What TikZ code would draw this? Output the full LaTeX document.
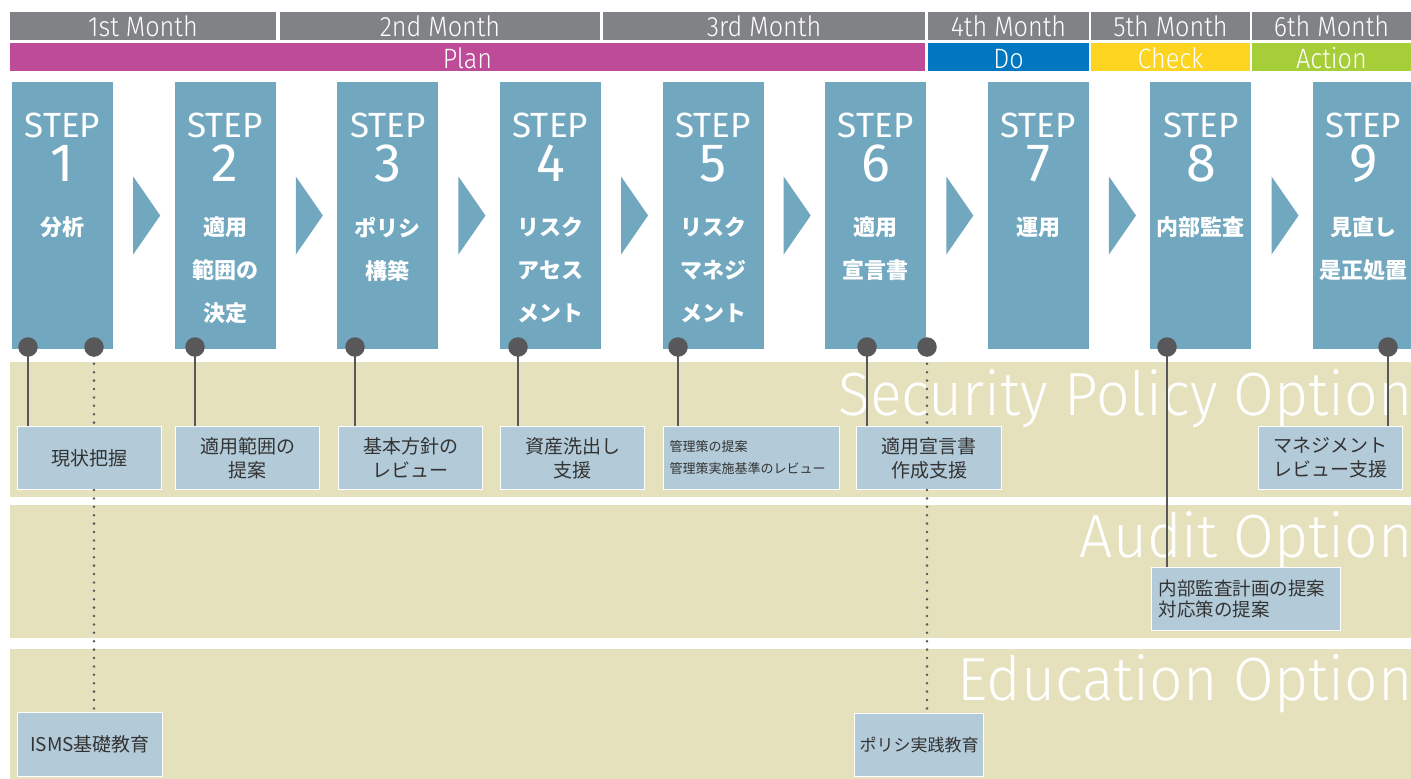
\documentclass[tikz,border=0pt]{standalone}
\usepackage{fontspec}
\setmainfont{Noto Sans CJK JP}
\newfontfamily\dinfont{Fira Sans}
\newfontfamily\dincond[FakeStretch=0.9]{Fira Sans Light}
\newfontfamily\dinlight[FakeStretch=0.965]{Fira Sans Light}
\usetikzlibrary{positioning}

\definecolor{monthgray}{HTML}{818286}
\definecolor{plancol}{HTML}{BD4B97}
\definecolor{docol}{HTML}{0077C0}
\definecolor{checkcol}{HTML}{FDD420}
\definecolor{actcol}{HTML}{A6CE39}
\definecolor{stepcol}{HTML}{72A8BF}
\definecolor{bandcol}{HTML}{E6E1BD}
\definecolor{notecol}{HTML}{B3CBD9}
\definecolor{pincol}{HTML}{58585A}
\definecolor{inkcol}{HTML}{333333}

\tikzset{
  barlabel/.style={text=white, font=\dincond\fontsize{28}{28}\selectfont, inner sep=0pt, anchor=base},
  stepbox/.style={fill=stepcol, minimum width=101pt, minimum height=267pt, inner sep=0pt},
  steptitle/.style={text=white, font=\dinfont\fontsize{35}{35}\selectfont, inner sep=0pt, anchor=base},
  stepnum/.style={text=white, font=\dinfont\fontsize{54}{54}\selectfont, inner sep=0pt, anchor=base},
  steptext/.style={text=white, font=\bfseries\fontsize{22}{43}\selectfont, align=center, inner sep=0pt, anchor=north},
  chevron/.style={fill=stepcol},
  pin/.style={circle, fill=pincol, minimum size=19.5pt, inner sep=0pt},
  stem/.style={pincol, line width=2.6pt},
  dotstem/.style={pincol, line width=2.8pt, dash pattern=on 0pt off 8.4pt, line cap=round},
  note/.style={fill=notecol, draw=white, line width=1pt, text=inkcol, inner sep=0pt,
    font=\fontsize{19}{24}\selectfont, align=center, anchor=north west,
    minimum width=144pt, minimum height=63pt},
  bandtitle/.style={text=white, font=\dinlight\fontsize{61}{61}\selectfont, anchor=base east, inner sep=0pt},
}

\begin{document}
\begin{tikzpicture}[x=1pt, y=-1pt]
  \useasboundingbox (0,0) rectangle (1411,779);

  % months and PDCA phases
  \foreach \xa/\xb/\txt [count=\k] in {10/276/1st Month, 280/600/2nd Month, 603/925/3rd Month,
      928/1089/4th Month, 1091/1250/5th Month, 1252/1411/6th Month}{
    \fill[monthgray] (\xa,12) rectangle (\xb,40);
    \node[barlabel] (m\k) at ({(\xa+\xb)/2},36) {\txt};
  }
  \foreach \xa/\xb/\col/\txt in {10/925/plancol/Plan, 928/1089/docol/Do,
      1091/1250/checkcol/Check, 1252/1411/actcol/Action}{
    \fill[\col] (\xa,43) rectangle (\xb,71);
    \node[barlabel] (ph-\txt) at ({(\xa+\xb)/2},68) {\txt};
  }

  % option bands
  \fill[bandcol] (10,362) rectangle (1411,497);
  \fill[bandcol] (10,505) rectangle (1411,638);
  \fill[bandcol] (10,649) rectangle (1411,779);
  \node[bandtitle] (secopt) at (1413,415) {Security Policy Option};
  \node[bandtitle] (audopt) at (1413,557) {Audit Option};
  \node[bandtitle] (eduopt) at (1413,700) {Education Option};

  % the nine steps
  \foreach \i/\lbl in {1/分析, 2/{適用\\範囲の\\決定}, 3/{ポリシ\\構築}, 4/{リスク\\アセス\\メント},
      5/{リスク\\マネジ\\メント}, 6/{適用\\宣言書}, 7/運用, 8/内部監査, 9/{見直し\\是正処置}}{
    \node[stepbox] (s\i) at ({62.5+162.625*(\i-1)},215.5) {};
    \node[steptitle] (t\i) at ([yshift=-56pt]s\i.north) {STEP};
    \node[stepnum] (k\i) at ([yshift=-100pt]s\i.north) {\i};
    \node[steptext] (l\i) at ([yshift=-135pt]s\i.north) {\lbl};
  }
  \foreach \i in {1,...,8}
    \fill[chevron] (s\i.east) ++(20,-39) -- ++(27,39) -- ++(-27,39) -- cycle;

  % option boxes
  \node[note] (n1) at (17,426) {現状把握};
  \node[note] (n2) at (175,426) {適用範囲の\\提案};
  \node[note] (n3) at (338,426) {基本方針の\\レビュー};
  \node[note] (n4) at (500,426) {資産洗出し\\支援};
  \node[note, minimum width=176pt, align=left, text width=164pt,
    font=\fontsize{13}{22}\selectfont] (n5) at (663,426) {管理策の提案\\管理策実施基準のレビュー};
  \node[note, minimum width=145pt] (n6) at (856,426) {適用宣言書\\作成支援};
  \node[note] (n9) at (1258,426) {マネジメント\\レビュー支援};
  \node[note, minimum width=189pt, align=left, text width=175pt,
    font=\fontsize{18.5}{20.5}\selectfont] (a8) at (1151,567) {内部監査計画の提案\\対応策の提案};
  \node[note, minimum width=145pt, minimum height=64pt] (e1) at (17,712) {ISMS基礎教育};
  \node[note, minimum width=129pt, font=\fontsize{17}{17}\selectfont] (e6) at (854,713) {ポリシ実践教育};

  % pins on the steps
  \coordinate (p1a) at (28,347);
  \coordinate (p1b) at (94,347);
  \coordinate (p2) at (195,347);
  \coordinate (p3) at (355,347);
  \coordinate (p4) at (518,347);
  \coordinate (p5) at (678,347);
  \coordinate (p6a) at (867,347);
  \coordinate (p6b) at (927,347);
  \coordinate (p8) at (1167,347);
  \coordinate (p9) at (1388,347);

  \draw[stem] (p1a) -- (p1a |- n1.north);
  \draw[stem] (p2) -- (p2 |- n2.north);
  \draw[stem] (p3) -- (p3 |- n3.north);
  \draw[stem] (p4) -- (p4 |- n4.north);
  \draw[stem] (p5) -- (p5 |- n5.north);
  \draw[stem] (p6a) -- (p6a |- n6.north);
  \draw[stem] (p8) -- (p8 |- a8.north);
  \draw[stem] (p9) -- (p9 |- n9.north);
  \draw[dotstem] (p1b) -- (p1b |- n1.north) (p1b |- n1.south) -- (p1b |- e1.north);
  \draw[dotstem] (p6b) -- (p6b |- n6.north) (p6b |- n6.south) -- (p6b |- e6.north);

  \foreach \p in {p1a,p1b,p2,p3,p4,p5,p6a,p6b,p8,p9}
    \node[pin] (\p-pin) at (\p) {};
\end{tikzpicture}
\end{document}
